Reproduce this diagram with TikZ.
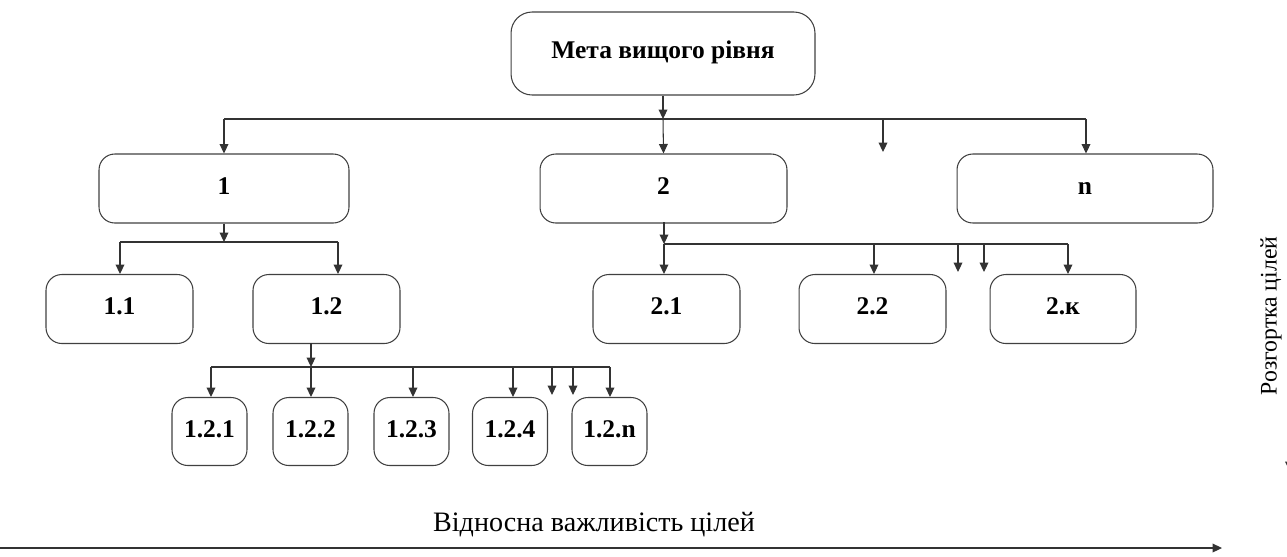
\documentclass[tikz,border=0pt]{standalone}
\usepackage{fontspec}
\setmainfont{Liberation Serif}
\usetikzlibrary{arrows.meta}
\tikzset{
  box/.style={draw=black!75, line width=0.6pt, rounded corners=9pt, inner sep=0pt,
    font=\fontsize{14.5}{16}\selectfont\bfseries, minimum height=1.38cm,
    text height=0.66em, text depth=0pt},
  bigbox/.style={box, minimum width=5cm},
  midbox/.style={box, minimum width=2.94cm},
  smallbox/.style={box, rounded corners=9pt, minimum width=1.5cm, minimum height=1.36cm},
  arr/.style={draw=black!80, line width=0.6pt, -{Triangle[length=5.4pt,width=5pt]}},
  ln/.style={draw=black!80, line width=0.6pt},
}
\begin{document}
\begin{tikzpicture}[x=0.02cm, y=-0.02cm]
\useasboundingbox (0,0) rectangle (1287,556);
\clip (0,0) rectangle (1287,556);
% nodes
\node[box, minimum width=6.08cm, minimum height=1.66cm, rounded corners=12pt, text depth=0.1em] (top) at (663,53.5) {Мета вищого рівня};
\node[bigbox] (n1) at (224,188.5) {1};
\node[bigbox, minimum width=4.94cm] (n2) at (663.5,188.5) {2};
\node[bigbox, minimum width=5.12cm] (nn) at (1085,188.5) {n};
\node[midbox] (n11) at (119.5,309) {1.1};
\node[midbox] (n12) at (326.5,309) {1.2};
\node[midbox] (n21) at (666.5,309) {2.1};
\node[midbox] (n22) at (872.5,309) {2.2};
\node[midbox, minimum width=2.92cm] (n2k) at (1063,309) {2.к};
\node[smallbox] (n121) at (209.5,431.5) {1.2.1};
\node[smallbox] (n122) at (310.5,431.5) {1.2.2};
\node[smallbox] (n123) at (411.5,431.5) {1.2.3};
\node[smallbox] (n124) at (510,431.5) {1.2.4};
\node[smallbox] (n12n) at (609.5,431.5) {1.2.n};
% level 1 bus
\coordinate (b1) at (663,119);
\coordinate (b1l) at (224,119);
\coordinate (b1x) at (883,119);
\coordinate (b1r) at (1086,119);
\coordinate (e1) at (883,152);
\draw[arr] (top.south) -- (b1);
\draw[ln] (b1l) -- (b1r);
\draw[arr] (b1l) -- (n1.north);
\draw[arr] (b1) -- (n2.north);
\draw[arr] (b1r) -- (b1r |- nn.north);
\draw[arr] (b1x) -- (e1);
% box 1 children
\coordinate (c1) at (224,242);
\coordinate (c1l) at (120,242);
\coordinate (c1r) at (338,242);
\draw[arr] (n1.south) -- (c1);
\draw[ln] (c1l) -- (c1r);
\draw[arr] (c1l) -- (c1l |- n11.north);
\draw[arr] (c1r) -- (c1r |- n12.north);
% box 1.2 children
\coordinate (d0) at (311,343);
\coordinate (d) at (311,367);
\coordinate (dl) at (211,367);
\coordinate (d3) at (413,367);
\coordinate (d4) at (513,367);
\coordinate (dx1) at (552,367);
\coordinate (dx2) at (573,367);
\coordinate (dr) at (610,367);
\coordinate (ex1) at (552,395);
\coordinate (ex2) at (573,395);
\draw[arr] (d0) -- (d);
\draw[ln] (dl) -- (dr);
\draw[arr] (dl) -- (dl |- n121.north);
\draw[arr] (d) -- (d |- n122.north);
\draw[arr] (d3) -- (d3 |- n123.north);
\draw[arr] (d4) -- (d4 |- n124.north);
\draw[arr] (dr) -- (dr |- n12n.north);
\draw[arr] (dx1) -- (ex1);
\draw[arr] (dx2) -- (ex2);
% box 2 children
\coordinate (f0) at (664,222);
\coordinate (f) at (664,244);
\coordinate (f2) at (874,244);
\coordinate (fx1) at (958,244);
\coordinate (fx2) at (984,244);
\coordinate (fr) at (1068,244);
\coordinate (fe1) at (958,272);
\coordinate (fe2) at (984,272);
\draw[arr] (f0) -- (f);
\draw[ln] (f) -- (fr);
\draw[arr] (f) -- (f |- n21.north);
\draw[arr] (f2) -- (f2 |- n22.north);
\draw[arr] (fr) -- (fr |- n2k.north);
\draw[arr] (fx1) -- (fe1);
\draw[arr] (fx2) -- (fe2);
% axes
\coordinate (ax0) at (0,548);
\coordinate (ax1) at (1222,548);
\draw[arr] (ax0) -- (ax1);
\node[font=\fontsize{16}{18}\selectfont] (lx) at (594,525) {Відносна важливість цілей};
\node[font=\fontsize{13.5}{15}\selectfont, rotate=90] (ly) at (1271,316) {Розгортка цілей};
\coordinate (vy0) at (1289.5,420);
\coordinate (vy1) at (1289.5,471);
\draw[arr] (vy0) -- (vy1);
\end{tikzpicture}
\end{document}
